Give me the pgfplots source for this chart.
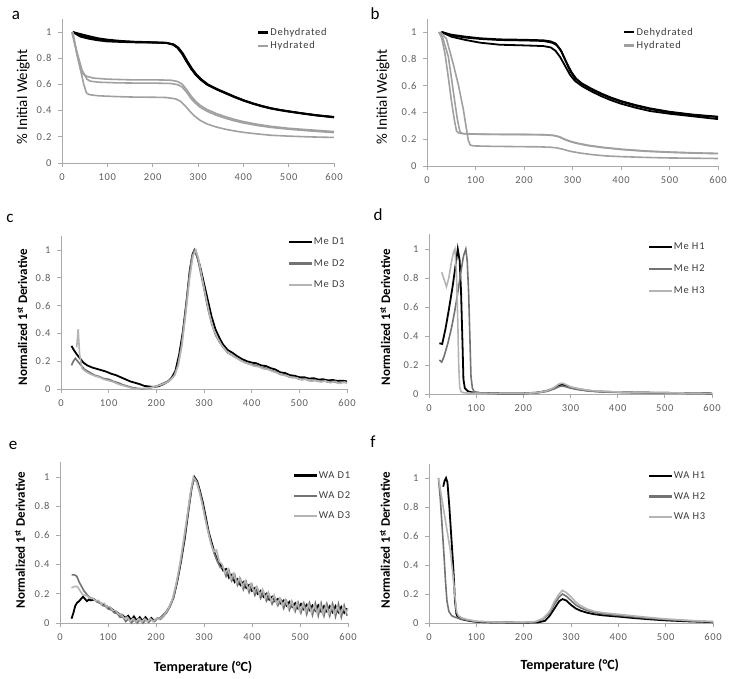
\documentclass[border=0pt]{standalone}
\usepackage{pgfplots}
\pgfplotsset{compat=1.18}
\usepackage{fontspec}
\setmainfont{Carlito}
\newfontfamily\tickfont[LetterSpace=7]{Carlito}
\definecolor{axisgray}{RGB}{170,170,170}
\definecolor{tickgray}{RGB}{95,95,95}
\definecolor{leggray}{RGB}{60,60,60}
\definecolor{dgray}{RGB}{115,115,115}
\definecolor{lgray}{RGB}{180,180,180}
\definecolor{hgray}{RGB}{160,160,160}

\pgfplotsset{
  panel/.style={
    scale only axis, xmin=0, xmax=600, ymin=0, ymax=1.1,
    axis lines*=left,
    axis line style={draw=axisgray, line width=0.8pt},
    xtick={0,100,200,300,400,500,600},
    ytick={0,0.2,0.4,0.6,0.8,1},
    tick align=outside, major tick length=4pt,
    tick style={draw=axisgray, line width=0.8pt},
    ticklabel style={font=\tickfont\fontsize{10.5}{12}\selectfont, text=tickgray},
    /pgf/number format/assume math mode=true,
    yticklabel style={/pgf/number format/fixed, /pgf/number format/precision=1},
    xticklabel style={yshift=-3pt},
    yticklabel style={xshift=-3pt},
    ylabel style={font=\bfseries\fontsize{13}{15}\selectfont, rotate=0, anchor=center},
    xlabel style={font=\bfseries\fontsize{14}{16}\selectfont, anchor=center},
    legend cell align=left,
    clip=false,
  },
  tga legend/.style={
    legend style={draw=none, fill=none, anchor=north west, inner sep=0pt,
      font=\tickfont\fontsize{10.5}{12}\selectfont, text=leggray,
      row sep=2.5pt, nodes={inner sep=1pt}},
    legend image code/.code={\draw[##1, line width=2.2pt] (0pt,0pt) -- (10pt,0pt);},
  },
  dtg legend/.style={
    legend style={draw=none, fill=none, anchor=north west, inner sep=0pt,
      font=\tickfont\fontsize{10.5}{12}\selectfont, text=leggray,
      row sep=#1, nodes={inner sep=0.5pt}},
    legend image code/.code={\draw[##1, line width=2.2pt] (0pt,0pt) -- (23pt,0pt);},
  },
  blk/.style={black, line width=1.8pt},
  drk/.style={dgray, line width=1.6pt},
  lgt/.style={lgray, line width=1.6pt},
  hyd/.style={hgray, line width=1.6pt},
}

\begin{document}
\begin{tikzpicture}
\useasboundingbox (0,0) rectangle (733pt,678pt);

% ---------- a ----------
\begin{axis}[panel, tga legend, width=272pt, height=144.1pt,
  at={(62pt,515pt)}, anchor=south west,
  ylabel={\% Initial Weight},
  ylabel style={font=\fontsize{15}{17}\selectfont, at={(axis description cs:-0.143,0.458)}},
  legend style={at={(axis description cs:0.717,0.945)}}]
\addplot[blk] coordinates {
  (24,1.0) (40,0.985) (60,0.968) (80,0.952) (100,0.942) (130,0.932) (160,0.926)
  (200,0.922) (230,0.918) (245,0.905) (255,0.88) (265,0.835) (275,0.775)
  (285,0.72) (295,0.675) (305,0.64) (320,0.6) (340,0.565) (360,0.535)
  (380,0.505) (400,0.478) (420,0.455) (440,0.435) (460,0.418) (480,0.405)
  (500,0.394) (530,0.379) (560,0.365) (600,0.35)};
\addlegendentry{Dehydrated}
\addplot[hyd] coordinates {
  (22,1.0) (35,0.8) (48,0.6) (54,0.535) (60,0.522) (80,0.513) (120,0.507)
  (160,0.503) (200,0.502) (230,0.5) (250,0.49) (262,0.47) (272,0.435)
  (282,0.395) (292,0.36) (305,0.325) (320,0.298) (340,0.275) (360,0.258)
  (380,0.245) (400,0.234) (430,0.222) (460,0.212) (500,0.205) (550,0.199)
  (600,0.195)};
\addlegendentry{Hydrated}
\addplot[blk, forget plot] coordinates {
  (24,1.0) (40,0.975) (60,0.957) (80,0.943) (100,0.935) (130,0.928) (160,0.923)
  (200,0.92) (230,0.917) (247,0.905) (257,0.88) (267,0.835) (277,0.775)
  (287,0.72) (297,0.675) (307,0.64) (322,0.6) (342,0.565) (362,0.535)
  (382,0.505) (402,0.478) (422,0.455) (442,0.435) (462,0.418) (482,0.405)
  (502,0.394) (532,0.379) (562,0.365) (600,0.352)};
\addplot[blk, forget plot] coordinates {
  (24,1.0) (40,0.965) (60,0.948) (80,0.936) (100,0.928) (130,0.924) (160,0.921)
  (200,0.919) (230,0.916) (245,0.903) (255,0.878) (265,0.833) (275,0.773)
  (285,0.718) (295,0.673) (305,0.638) (320,0.598) (340,0.563) (360,0.533)
  (380,0.503) (400,0.476) (420,0.453) (440,0.433) (460,0.416) (480,0.403)
  (500,0.392) (530,0.377) (560,0.363) (600,0.348)};
\addplot[hyd, forget plot] coordinates {
  (22,1.0) (32,0.86) (44,0.71) (55,0.64) (62,0.625) (80,0.617) (120,0.612)
  (160,0.61) (200,0.61) (240,0.607) (255,0.598) (265,0.58) (275,0.54)
  (285,0.49) (295,0.455) (305,0.425) (320,0.395) (340,0.365) (360,0.342)
  (380,0.322) (400,0.306) (430,0.287) (460,0.272) (500,0.258) (550,0.244)
  (600,0.232)};
\addplot[hyd, forget plot] coordinates {
  (24,1.0) (33,0.83) (42,0.7) (48,0.675) (56,0.66) (70,0.648) (100,0.64)
  (150,0.635) (200,0.635) (240,0.632) (255,0.622) (265,0.602) (275,0.56)
  (285,0.51) (295,0.47) (305,0.44) (320,0.408) (340,0.378) (360,0.354)
  (380,0.333) (400,0.316) (430,0.296) (460,0.28) (500,0.265) (550,0.252)
  (600,0.24)};
\end{axis}

% ---------- b ----------
\begin{axis}[panel, tga legend, width=291pt, height=147.4pt,
  at={(427pt,512pt)}, anchor=south west,
  ylabel={\% Initial Weight},
  ylabel style={font=\fontsize{15}{17}\selectfont, at={(axis description cs:-0.151,0.468)}},
  legend style={at={(axis description cs:0.674,0.945)}}]
\addplot[blk] coordinates {
  (30,1.0) (50,0.98) (80,0.965) (110,0.953) (150,0.945) (200,0.942) (240,0.938)
  (255,0.93) (265,0.915) (275,0.87) (285,0.79) (295,0.71) (305,0.655)
  (320,0.61) (340,0.57) (360,0.535) (380,0.505) (400,0.48) (430,0.45)
  (460,0.425) (500,0.4) (550,0.38) (600,0.365)};
\addlegendentry{Dehydrated}
\addplot[hyd] coordinates {
  (24,1.0) (30,0.96) (37,0.84) (44,0.66) (51,0.47) (57,0.33) (61,0.26)
  (66,0.245) (80,0.24) (120,0.237) (160,0.235) (200,0.235) (240,0.233)
  (260,0.228) (272,0.218) (282,0.2) (295,0.182) (310,0.168) (330,0.153)
  (360,0.138) (400,0.123) (450,0.11) (500,0.102) (550,0.096) (600,0.092)};
\addlegendentry{Hydrated}
\addplot[blk, forget plot] coordinates {
  (30,1.0) (50,0.975) (80,0.958) (110,0.948) (150,0.94) (200,0.937) (240,0.933)
  (258,0.92) (268,0.9) (278,0.85) (288,0.77) (298,0.7) (308,0.65) (320,0.615)
  (340,0.575) (360,0.54) (380,0.51) (400,0.485) (430,0.455) (460,0.43)
  (500,0.405) (550,0.383) (600,0.368)};
\addplot[blk, forget plot] coordinates {
  (30,1.0) (50,0.965) (80,0.94) (110,0.92) (150,0.905) (200,0.9) (240,0.895)
  (255,0.885) (265,0.86) (275,0.81) (285,0.745) (295,0.68) (305,0.635)
  (320,0.595) (340,0.555) (360,0.52) (380,0.49) (400,0.465) (430,0.435)
  (460,0.41) (500,0.39) (550,0.37) (600,0.35)};
\addplot[hyd, forget plot] coordinates {
  (26,1.0) (33,0.95) (44,0.816) (51,0.64) (57.7,0.468) (63,0.34) (68,0.256)
  (72,0.243) (90,0.238) (130,0.236) (170,0.236) (210,0.235) (245,0.233)
  (262,0.228) (274,0.217) (284,0.2) (297,0.183) (312,0.169) (332,0.155)
  (362,0.14) (402,0.125) (452,0.112) (502,0.104) (552,0.098) (600,0.094)};
\addplot[hyd, forget plot] coordinates {
  (27,1.0) (40,0.95) (53.8,0.766) (65,0.6) (75,0.42) (85,0.194) (89,0.157)
  (95,0.15) (130,0.147) (180,0.145) (230,0.143) (255,0.14) (268,0.135)
  (280,0.125) (295,0.11) (315,0.097) (340,0.085) (370,0.075) (400,0.07)
  (450,0.064) (500,0.06) (550,0.058) (600,0.056)};
\end{axis}

% ---------- c ----------
\begin{axis}[panel, dtg legend=12.5pt, width=286pt, height=152.9pt,
  at={(61pt,289pt)}, anchor=south west,
  ylabel={Normalized 1\textsuperscript{st} Derivative},
  ylabel style={at={(axis description cs:-0.136,0.47)}},
  legend style={at={(axis description cs:0.794,0.995)}}]
\addplot[blk] coordinates {
  (22,0.31) (27,0.28) (33,0.25) (40,0.22) (47,0.19) (55,0.17) (65,0.155)
  (75,0.145) (85,0.135) (95,0.125) (105,0.11) (115,0.1) (125,0.085) (135,0.07)
  (145,0.055) (155,0.045) (165,0.035) (175,0.022) (185,0.018) (195,0.015)
  (205,0.02) (215,0.035) (225,0.055) (232,0.08) (240,0.13) (248,0.25)
  (256,0.42) (264,0.65) (270,0.85) (276,0.97) (280,1.0) (285,0.96) (292,0.88)
  (300,0.76) (308,0.64) (316,0.52) (324,0.43) (332,0.37) (340,0.32) (350,0.28)
  (360,0.26) (370,0.235) (380,0.215) (390,0.2) (400,0.19) (410,0.185)
  (420,0.17) (430,0.165) (440,0.15) (450,0.14) (460,0.12) (470,0.115)
  (480,0.1) (490,0.095) (500,0.085) (510,0.085) (520,0.075) (530,0.078)
  (540,0.068) (550,0.07) (560,0.062) (570,0.065) (580,0.058) (590,0.06)
  (600,0.055)};
\addlegendentry{Me D1}
\addplot[drk] coordinates {
  (22,0.17) (26,0.2) (30,0.22) (35,0.2) (42,0.17) (50,0.14) (60,0.12)
  (70,0.1) (80,0.09) (90,0.075) (100,0.07) (110,0.055) (120,0.045) (130,0.03)
  (140,0.02) (150,0.01) (160,0.005) (170,0.0) (180,0.005) (190,0.01)
  (200,0.02) (210,0.035) (220,0.05) (230,0.07) (238,0.1) (245,0.17) (252,0.3)
  (260,0.52) (268,0.78) (274,0.94) (280,1.0) (286,0.95) (292,0.85) (300,0.72)
  (308,0.58) (316,0.47) (324,0.39) (332,0.34) (340,0.3) (350,0.26) (360,0.24)
  (370,0.22) (380,0.2) (390,0.185) (400,0.175) (410,0.17) (420,0.155)
  (430,0.15) (440,0.135) (450,0.125) (460,0.105) (470,0.1) (480,0.085)
  (490,0.085) (500,0.07) (510,0.075) (520,0.06) (530,0.065) (540,0.055)
  (550,0.06) (560,0.05) (570,0.055) (580,0.045) (590,0.05) (600,0.045)};
\addlegendentry{Me D2}
\addplot[lgt] coordinates {
  (33,0.3) (36,0.43) (39,0.25) (44,0.15) (50,0.13) (60,0.11) (70,0.095)
  (80,0.085) (90,0.07) (100,0.06) (110,0.05) (120,0.035) (130,0.025)
  (140,0.015) (150,0.005) (160,0.0) (170,0.005) (180,0.005) (190,0.012)
  (200,0.02) (210,0.03) (220,0.045) (230,0.065) (238,0.095) (246,0.17)
  (254,0.32) (262,0.55) (270,0.8) (277,0.96) (283,1.0) (289,0.93) (296,0.8)
  (304,0.66) (312,0.53) (320,0.43) (328,0.37) (336,0.32) (345,0.28)
  (355,0.25) (365,0.23) (375,0.21) (385,0.19) (395,0.18) (405,0.165)
  (415,0.16) (425,0.145) (435,0.14) (445,0.125) (455,0.115) (465,0.1)
  (475,0.095) (485,0.08) (495,0.08) (505,0.065) (515,0.07) (525,0.055)
  (535,0.062) (545,0.05) (555,0.058) (565,0.045) (575,0.055) (585,0.04)
  (595,0.05) (600,0.045)};
\addlegendentry{Me D3}
\end{axis}

% ---------- d ----------
\begin{axis}[panel, dtg legend=12.5pt, width=283pt, height=159.5pt,
  at={(429pt,284pt)}, anchor=south west,
  ylabel={Normalized 1\textsuperscript{st} Derivative},
  ylabel style={at={(axis description cs:-0.155,0.483)}},
  legend style={at={(axis description cs:0.774,0.95)}}]
\addplot[blk] coordinates {
  (22,0.35) (28,0.345) (35,0.45) (42,0.58) (50,0.74) (56,0.88) (61,1.0)
  (65,0.92) (68,0.7) (71,0.35) (73,0.1) (76,0.04) (82,0.02) (90,0.012)
  (100,0.008) (150,0.004) (200,0.004) (230,0.01) (250,0.022) (265,0.04)
  (275,0.058) (282,0.065) (290,0.058) (300,0.045) (320,0.032) (340,0.022)
  (370,0.016) (400,0.013) (450,0.01) (500,0.008) (550,0.006) (600,0.004)};
\addlegendentry{Me H1}
\addplot[drk] coordinates {
  (22,0.234) (27,0.22) (32,0.26) (40,0.35) (48,0.46) (55,0.58) (62,0.72)
  (68,0.85) (73,0.95) (78,1.0) (81,0.92) (84,0.7) (87,0.35) (89,0.12)
  (92,0.04) (96,0.015) (110,0.008) (150,0.004) (200,0.004) (230,0.008)
  (250,0.018) (265,0.035) (275,0.05) (282,0.055) (290,0.05) (300,0.04)
  (320,0.028) (340,0.02) (370,0.014) (400,0.011) (450,0.009) (500,0.007)
  (550,0.005) (600,0.004)};
\addlegendentry{Me H2}
\addplot[lgt] coordinates {
  (27,0.84) (32,0.79) (37,0.74) (42,0.8) (47,0.9) (52,0.98) (55,1.0)
  (58,0.85) (61,0.5) (63,0.2) (65,0.05) (68,0.015) (75,0.008) (100,0.005)
  (150,0.004) (200,0.004) (230,0.01) (250,0.022) (265,0.045) (275,0.068)
  (282,0.075) (290,0.066) (300,0.05) (320,0.035) (340,0.025) (370,0.018)
  (400,0.014) (450,0.011) (500,0.009) (550,0.006) (600,0.004)};
\addlegendentry{Me H3}
\end{axis}

% ---------- e ----------
\begin{axis}[panel, dtg legend=11pt, width=288pt, height=160.6pt,
  at={(60pt,55pt)}, anchor=south west,
  ylabel={Normalized 1\textsuperscript{st} Derivative},
  ylabel style={at={(axis description cs:-0.139,0.517)}},
  xlabel={Temperature (°C)},
  xlabel style={at={(axis description cs:0.497,-0.274)}},
  legend style={at={(axis description cs:0.809,0.948)}}]
\addplot[blk] coordinates {
  (24,0.03) (28,0.07) (32,0.12) (36,0.14) (40,0.15) (45,0.17) (48,0.18)
  (52,0.165) (56,0.15) (60,0.16) (65,0.155) (70,0.16) (76,0.15) (82,0.14)
  (88,0.13) (94,0.12) (100,0.11) (106,0.1) (112,0.085) (118,0.075) (124,0.06)
  (130,0.055) (136,0.035) (142,0.05) (148,0.02) (154,0.045) (160,0.015)
  (166,0.04) (172,0.015) (178,0.04) (184,0.015) (190,0.035) (196,0.015)
  (202,0.03) (208,0.03) (214,0.05) (220,0.07) (228,0.11) (236,0.17)
  (244,0.28) (252,0.42) (260,0.58) (268,0.78) (274,0.92) (280,1.0) (286,0.97)
  (292,0.9) (298,0.82) (304,0.72) (310,0.62) (316,0.55) (322,0.48) (328,0.43)
  (334,0.4) (340,0.36) (346,0.37) (352,0.31) (358,0.33) (364,0.28) (370,0.3)
  (376,0.26) (382,0.28) (388,0.24) (394,0.26) (400,0.22) (406,0.24) (412,0.2)
  (418,0.22) (424,0.18) (430,0.2) (436,0.16) (442,0.18) (448,0.15) (454,0.165)
  (460,0.135) (466,0.155) (472,0.12) (478,0.145) (484,0.11) (490,0.135)
  (496,0.1) (502,0.13) (508,0.095) (514,0.125) (520,0.09) (526,0.12)
  (532,0.085) (538,0.12) (544,0.08) (550,0.115) (556,0.08) (562,0.115)
  (568,0.075) (574,0.115) (580,0.075) (586,0.11) (592,0.07) (598,0.1)};
\addlegendentry{WA D1}
\addplot[drk] coordinates {
  (24,0.33) (30,0.33) (35,0.32) (40,0.28) (45,0.25) (50,0.22) (55,0.2)
  (60,0.18) (65,0.17) (71,0.165) (77,0.145) (83,0.14) (89,0.12) (95,0.115)
  (101,0.095) (107,0.09) (113,0.07) (119,0.065) (125,0.04) (131,0.04)
  (137,0.01) (143,0.03) (149,0.0) (155,0.025) (161,0.0) (167,0.025)
  (173,0.0) (179,0.025) (185,0.005) (191,0.025) (197,0.01) (203,0.03)
  (209,0.025) (215,0.045) (221,0.065) (229,0.11) (237,0.18) (245,0.3)
  (253,0.45) (261,0.62) (269,0.81) (275,0.94) (280,0.99) (286,0.96)
  (292,0.89) (298,0.8) (304,0.7) (310,0.61) (316,0.53) (322,0.47) (328,0.42)
  (334,0.38) (340,0.38) (346,0.32) (352,0.36) (358,0.29) (364,0.33)
  (370,0.26) (376,0.3) (382,0.23) (388,0.28) (394,0.21) (400,0.26) (406,0.19)
  (412,0.23) (418,0.17) (424,0.21) (430,0.15) (436,0.19) (442,0.13)
  (448,0.17) (454,0.12) (460,0.16) (466,0.1) (472,0.15) (478,0.09)
  (484,0.14) (490,0.08) (496,0.14) (502,0.07) (508,0.135) (514,0.06)
  (520,0.135) (526,0.055) (532,0.135) (538,0.05) (544,0.135) (550,0.05)
  (556,0.13) (562,0.05) (568,0.13) (574,0.045) (580,0.13) (586,0.04)
  (592,0.12) (598,0.05)};
\addlegendentry{WA D2}
\addplot[lgt] coordinates {
  (24,0.24) (30,0.25) (36,0.25) (42,0.22) (48,0.19) (55,0.19) (62,0.17)
  (68,0.17) (74,0.15) (80,0.155) (86,0.13) (92,0.135) (98,0.11) (104,0.11)
  (110,0.085) (116,0.085) (122,0.06) (128,0.06) (134,0.03) (140,0.04)
  (146,0.01) (152,0.03) (158,0.005) (164,0.03) (170,0.005) (176,0.03)
  (182,0.01) (188,0.03) (194,0.01) (200,0.03) (206,0.025) (212,0.04)
  (218,0.06) (226,0.1) (234,0.16) (242,0.27) (250,0.41) (258,0.58)
  (266,0.76) (272,0.9) (278,1.0) (284,0.97) (290,0.9) (296,0.82) (302,0.72)
  (308,0.63) (314,0.55) (320,0.49) (326,0.5) (332,0.42) (338,0.4) (344,0.34)
  (350,0.37) (356,0.3) (362,0.34) (368,0.27) (374,0.31) (380,0.25) (386,0.29)
  (392,0.23) (398,0.27) (404,0.21) (410,0.25) (416,0.19) (422,0.23)
  (428,0.17) (434,0.21) (440,0.15) (446,0.19) (452,0.13) (458,0.17)
  (464,0.12) (470,0.16) (476,0.1) (482,0.15) (488,0.09) (494,0.14) (500,0.08)
  (506,0.13) (512,0.075) (518,0.13) (524,0.07) (530,0.125) (536,0.065)
  (542,0.125) (548,0.06) (554,0.12) (560,0.06) (566,0.12) (572,0.06)
  (578,0.115) (584,0.06) (590,0.11) (596,0.075) (600,0.1)};
\addlegendentry{WA D3}
\end{axis}

% ---------- f ----------
\begin{axis}[panel, dtg legend=11pt, width=284pt, height=159.5pt,
  at={(429pt,55pt)}, anchor=south west,
  ylabel={Normalized 1\textsuperscript{st} Derivative},
  ylabel style={at={(axis description cs:-0.155,0.52)}},
  xlabel={Temperature (°C)},
  xlabel style={at={(axis description cs:0.496,-0.263)}},
  legend style={at={(axis description cs:0.771,0.95)}}]
\addplot[blk] coordinates {
  (30,0.94) (33,0.98) (36,1.0) (39,0.97) (43,0.8) (47,0.6) (51,0.4) (55,0.15)
  (58,0.06) (62,0.035) (70,0.025) (80,0.018) (90,0.012) (100,0.008)
  (120,0.005) (150,0.003) (200,0.002) (230,0.004) (245,0.015) (255,0.05)
  (265,0.1) (275,0.15) (282,0.165) (290,0.155) (300,0.125) (310,0.1)
  (320,0.085) (335,0.07) (350,0.06) (370,0.052) (400,0.044) (430,0.035)
  (460,0.027) (500,0.018) (550,0.011) (600,0.006)};
\addlegendentry{WA H1}
\addplot[drk] coordinates {
  (20,1.0) (24,0.85) (28,0.65) (32,0.45) (35,0.28) (38,0.15) (42,0.08)
  (48,0.05) (55,0.04) (65,0.03) (80,0.02) (100,0.01) (150,0.004) (200,0.003)
  (225,0.008) (240,0.025) (255,0.07) (265,0.13) (275,0.18) (282,0.2)
  (290,0.185) (300,0.155) (310,0.125) (320,0.105) (335,0.085) (350,0.072)
  (370,0.062) (400,0.052) (430,0.043) (460,0.034) (500,0.024) (550,0.015)
  (600,0.008)};
\addlegendentry{WA H2}
\addplot[lgt] coordinates {
  (20,1.0) (25,0.9) (30,0.8) (35,0.7) (40,0.6) (45,0.5) (50,0.35) (55,0.18)
  (58,0.08) (62,0.05) (70,0.035) (80,0.025) (100,0.012) (150,0.005)
  (200,0.004) (225,0.01) (240,0.03) (255,0.08) (265,0.15) (275,0.2)
  (282,0.225) (290,0.21) (300,0.18) (310,0.145) (320,0.12) (335,0.095)
  (350,0.08) (370,0.07) (400,0.06) (430,0.05) (460,0.04) (500,0.028)
  (550,0.018) (600,0.01)};
\addlegendentry{WA H3}
\end{axis}

% panel letters
\node[anchor=base, font=\fontsize{17}{19}\selectfont] at (16pt,658pt) {a};
\node[anchor=base, font=\fontsize{17}{19}\selectfont] at (375pt,658pt) {b};
\node[anchor=base, font=\fontsize{17}{19}\selectfont] at (10pt,455pt) {c};
\node[anchor=base, font=\fontsize{17}{19}\selectfont] at (378pt,457pt) {d};
\node[anchor=base, font=\fontsize{17}{19}\selectfont] at (13pt,229pt) {e};
\node[anchor=base, font=\fontsize{17}{19}\selectfont] at (373pt,231pt) {f};
\end{tikzpicture}
\end{document}
